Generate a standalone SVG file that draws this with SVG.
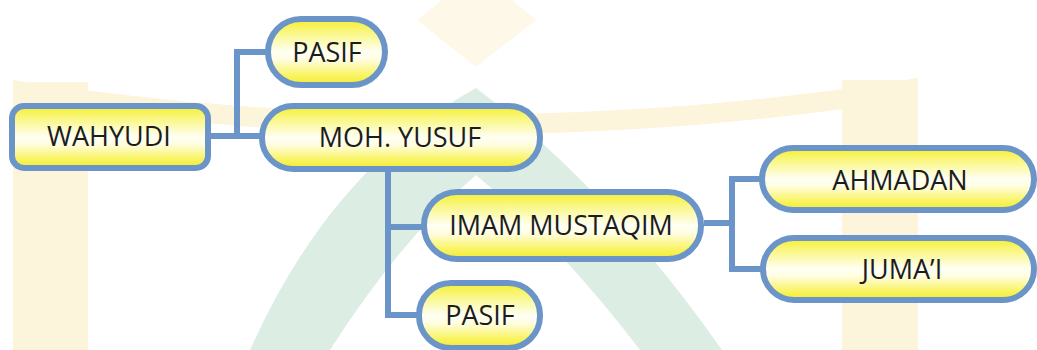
<svg xmlns="http://www.w3.org/2000/svg" width="1037" height="350" viewBox="0 0 1037 350">
<style>
  .node { stroke: #6b95c9; stroke-width: 6; fill: url(#gloss); }
  .conn { stroke: #6b95c9; stroke-width: 6; fill: none; stroke-linejoin: miter; }
  .label { font-family: "Open Sans", "Liberation Sans", sans-serif; font-size: 27px; fill: #1c1c1c; text-anchor: middle; }
  .wm-y { fill: #fcf5dc; }
  .wm-g { fill: #dcede3; }
</style>
<defs>
  <linearGradient id="gloss" x1="0" y1="0" x2="0" y2="1">
    <stop offset="0" stop-color="#f6ee2c"/>
    <stop offset="0.18" stop-color="#f9f67a"/>
    <stop offset="0.5" stop-color="#fffff4"/>
    <stop offset="0.62" stop-color="#fffde0"/>
    <stop offset="0.85" stop-color="#f9f463"/>
    <stop offset="1" stop-color="#f3eb2e"/>
  </linearGradient>
</defs>
<rect x="0" y="0" width="1037" height="350" fill="#ffffff"/>
<g id="watermark">
  <rect class="wm-y" x="13" y="82" width="75" height="268"/>
  <rect class="wm-y" x="842" y="80" width="76" height="270"/>
  <path class="wm-y" d="M13,80 Q 470,150 918,78 L918,98 Q 470,170 13,100 Z"/>
  <path fill="#fdf8e8" d="M417,20 L476,67 L536,20 L512,0 L442,0 Z"/>
  <path class="wm-g" d="M250,350 Q 330,170 476,88 Q 610,190 722,350 Z"/>
  <path fill="#ffffff" d="M330,350 Q 400,240 476,175 Q 560,245 640,350 Z"/>
</g>
<g id="connectors">
  <polyline class="conn" points="211,136 262,136"/>
  <polyline class="conn" points="268,52 237,52 237,136"/>
  <polyline class="conn" points="388,172 388,315 419,315"/>
  <polyline class="conn" points="388,227 424,227"/>
  <polyline class="conn" points="704,223 732,223"/>
  <polyline class="conn" points="762,179 732,179 732,269 763,269"/>
</g>
<g id="node-wahyudi">
  <rect class="node" x="12" y="106" width="196" height="62" rx="12"/>
  <text class="label" x="109" y="146">WAHYUDI</text>
</g>
<g id="node-pasif-1">
  <rect class="node" x="268" y="19" width="117" height="66" rx="33"/>
  <text class="label" x="327" y="62">PASIF</text>
</g>
<g id="node-moh-yusuf">
  <rect class="node" x="262" y="106" width="278" height="63" rx="31"/>
  <text class="label" x="400" y="147">MOH. YUSUF</text>
</g>
<g id="node-imam-mustaqim">
  <rect class="node" x="424" y="192" width="277" height="67" rx="33"/>
  <text class="label" x="561" y="235">IMAM MUSTAQIM</text>
</g>
<g id="node-pasif-2">
  <rect class="node" x="419" y="283" width="121" height="65" rx="32"/>
  <text class="label" x="480" y="325">PASIF</text>
</g>
<g id="node-ahmadan">
  <rect class="node" x="762" y="148" width="272" height="62" rx="31"/>
  <text class="label" x="900" y="190">AHMADAN</text>
</g>
<g id="node-jumai">
  <rect class="node" x="763" y="238" width="271" height="62" rx="31"/>
  <text class="label" x="902" y="279">JUMA’I</text>
</g>
</svg>
